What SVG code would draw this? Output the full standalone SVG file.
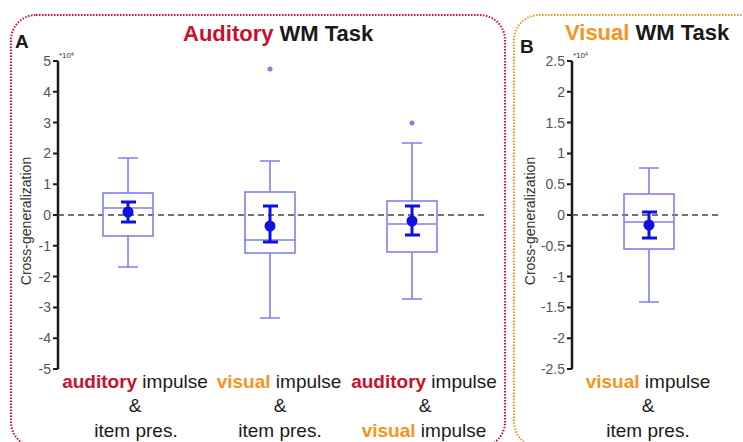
<svg xmlns="http://www.w3.org/2000/svg" width="743" height="442" viewBox="0 0 743 442">
<style>
text{font-family:"Liberation Sans",Arial,sans-serif}
.title{font-size:22px;font-weight:bold}
.red{fill:#c8102e}
.org{fill:#f7941d}
.blk{fill:#1a1a1a}
.tick{font-size:14px;fill:#555;text-anchor:end}
.axis{stroke:#1a1a1a;stroke-width:2.5;fill:none}
.tk{stroke:#1a1a1a;stroke-width:2}
.ylab{font-size:14px;fill:#333;text-anchor:middle}
.lab{font-size:19px;text-anchor:middle;fill:#1a1a1a}
.b{font-weight:bold}
.zero{stroke:#444;stroke-width:1.6;stroke-dasharray:6,4}
.box{stroke:#8080f0;stroke-width:1.6;fill:none}
.out{fill:#8080f0}
.err{stroke:#1010e0;stroke-width:3;fill:none}
.mean{fill:#1010e0}
.exp{font-size:8px;fill:#333}
</style>
<g id="panelA">
<rect x="11" y="15" width="494" height="432" rx="25" fill="none" stroke="#c8102e" stroke-width="2" stroke-dasharray="1.5,1.5"/>
<text x="15" y="48" class="blk" style="font-size:19px;font-weight:bold">A</text>
<text x="183" y="41" class="title"><tspan class="red">Auditory</tspan><tspan class="blk"> WM Task</tspan></text>
</g>
<g id="panelB">
<rect x="514" y="15" width="250" height="432" rx="25" fill="none" stroke="#f7941d" stroke-width="2" stroke-dasharray="1.5,1.5"/>
<text x="520" y="53" class="blk" style="font-size:19px;font-weight:bold">B</text>
<text x="565" y="40" class="title"><tspan class="org">Visual</tspan><tspan class="blk"> WM Task</tspan></text>
</g>
<g id="axisA">
<path class="axis" d="M58 61V369"/>
<path class="tk" d="M53 61H58M53 91.8H58M53 122.6H58M53 153.4H58M53 184.2H58M53 215H58M53 245.8H58M53 276.6H58M53 307.4H58M53 338.2H58M53 369H58"/>
<text class="tick" x="51" y="66">5</text>
<text class="tick" x="51" y="96.8">4</text>
<text class="tick" x="51" y="127.6">3</text>
<text class="tick" x="51" y="158.4">2</text>
<text class="tick" x="51" y="189.2">1</text>
<text class="tick" x="51" y="220">0</text>
<text class="tick" x="51" y="250.8">-1</text>
<text class="tick" x="51" y="281.6">-2</text>
<text class="tick" x="51" y="312.4">-3</text>
<text class="tick" x="51" y="343.2">-4</text>
<text class="tick" x="51" y="374">-5</text>
<text class="exp" x="59" y="58">*10<tspan dy="-2" style="font-size:5px">4</tspan></text>
<text class="ylab" transform="translate(31 221) rotate(-90)">Cross-generalization</text>
</g>
<g id="axisB">
<path class="axis" d="M572 61V369"/>
<path class="tk" d="M567 61H572M567 91.8H572M567 122.6H572M567 153.4H572M567 184.2H572M567 215H572M567 245.8H572M567 276.6H572M567 307.4H572M567 338.2H572M567 369H572"/>
<text class="tick" x="565" y="66">2.5</text>
<text class="tick" x="565" y="96.8">2</text>
<text class="tick" x="565" y="127.6">1.5</text>
<text class="tick" x="565" y="158.4">1</text>
<text class="tick" x="565" y="189.2">0.5</text>
<text class="tick" x="565" y="220">0</text>
<text class="tick" x="565" y="250.8">-0.5</text>
<text class="tick" x="565" y="281.6">-1</text>
<text class="tick" x="565" y="312.4">-1.5</text>
<text class="tick" x="565" y="343.2">-2</text>
<text class="tick" x="565" y="374">-2.5</text>
<text class="exp" x="573" y="58">*10<tspan dy="-2" style="font-size:5px">4</tspan></text>
<text class="ylab" transform="translate(535 221) rotate(-90)">Cross-generalization</text>
</g>
<g id="connectors">
<path class="zero" d="M58 215H487"/>
<path class="zero" d="M572 215H718"/>
</g>
<g id="box1">
<rect class="box" x="103" y="193" width="50" height="43"/>
<path class="box" d="M103 208H153M128 193V158M118 158H138M128 236V267M118 267H138"/>
<path class="err" d="M128 202V222M121 202H136M121 222H136"/>
<circle class="mean" cx="128" cy="212" r="5.5"/>
</g>
<g id="box2">
<rect class="box" x="245" y="192" width="50" height="61"/>
<path class="box" d="M245 240H295M270 192V161M260 161H280M270 253V318M260 318H280"/>
<circle class="out" cx="270" cy="69" r="2.5"/>
<path class="err" d="M270 206V242M263 206H278M263 242H278"/>
<circle class="mean" cx="270" cy="226" r="5.5"/>
</g>
<g id="box3">
<rect class="box" x="387" y="201" width="50" height="51"/>
<path class="box" d="M387 224H437M412 201V143M402 143H422M412 252V299M402 299H422"/>
<circle class="out" cx="412" cy="123" r="2.5"/>
<path class="err" d="M412 206V235M405 206H420M405 235H420"/>
<circle class="mean" cx="412" cy="221" r="5.5"/>
</g>
<g id="boxB">
<rect class="box" x="624" y="194" width="50" height="55"/>
<path class="box" d="M624 222H674M649 194V168M639 168H659M649 249V302M639 302H659"/>
<path class="err" d="M649 212V238M642 212H657M642 238H657"/>
<circle class="mean" cx="649" cy="225" r="5.5"/>
</g>
<g id="labels">
<text class="lab" x="135" y="388"><tspan class="red b">auditory</tspan> impulse</text>
<text class="lab" x="135" y="412">&amp;</text>
<text class="lab" x="136" y="437">item pres.</text>
<text class="lab" x="279" y="388"><tspan class="org b">visual</tspan> impulse</text>
<text class="lab" x="280" y="412">&amp;</text>
<text class="lab" x="280" y="437">item pres.</text>
<text class="lab" x="424" y="388"><tspan class="red b">auditory</tspan> impulse</text>
<text class="lab" x="425" y="412">&amp;</text>
<text class="lab" x="424" y="437"><tspan class="org b">visual</tspan> impulse</text>
<text class="lab" x="648" y="388"><tspan class="org b">visual</tspan> impulse</text>
<text class="lab" x="648" y="412">&amp;</text>
<text class="lab" x="648" y="437">item pres.</text>
</g>
</svg>
